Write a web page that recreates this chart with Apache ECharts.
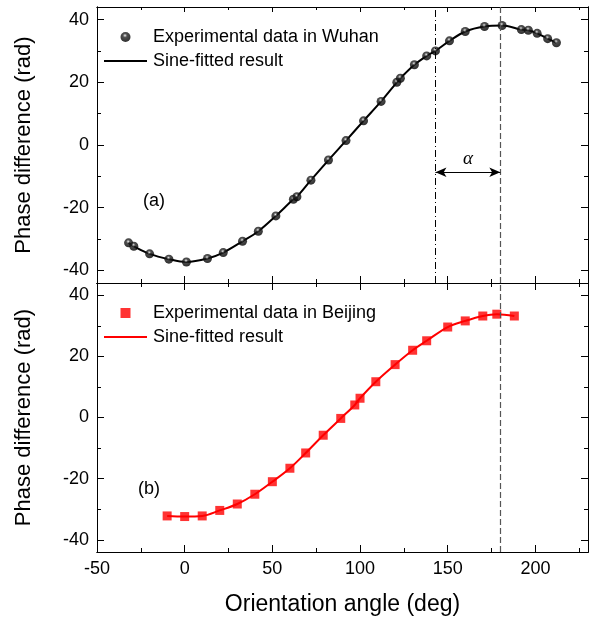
<!DOCTYPE html>
<html>
<head>
<meta charset="utf-8">
<script src="https://cdn.jsdelivr.net/npm/echarts@6/dist/echarts.min.js"></script>
<style>html,body{margin:0;padding:0;background:#fff}#c{width:589px;height:617px}</style>
</head>
<body>
<div id="c"></div>
<script>
// ---- data ----
const wuhanAngle = [-32, -29, -20, -9, 1, 13, 22, 33, 42, 52, 62, 64, 72, 82, 92, 102, 112, 121, 123, 131, 138, 143, 151, 160, 171, 181, 192, 196, 201, 207, 212];
const wuhanPhase = [-31.2, -32.3, -34.7, -36.4, -37.3, -36.2, -34.3, -30.7, -27.5, -22.6, -17.3, -16.5, -11.2, -4.8, 1.4, 7.7, 13.9, 20.0, 21.3, 25.6, 28.4, 30.0, 33.2, 36.2, 37.8, 38.1, 36.8, 36.6, 35.6, 33.9, 32.6];
const beijingAngle = [-10, 0, 10, 20, 30, 40, 50, 60, 69, 79, 89, 97, 100, 109, 120, 130, 138, 150, 160, 170, 178, 188];
const beijingPhase = [-32.2, -32.4, -32.2, -30.4, -28.3, -25.1, -21.0, -16.6, -11.6, -5.8, -0.3, 4.1, 6.3, 11.7, 17.3, 22.0, 25.1, 29.6, 31.6, 33.2, 33.8, 33.2];
const angleTicksMajor = [-50, 0, 50, 100, 150, 200];
const angleTicksMinor = [-25, 25, 75, 125, 175, 225];
const phaseTicksMajor = [-40, -20, 0, 20, 40];
const phaseTicksMinor = [-30, -10, 10, 30];
const refLinesA = [143, 180];   // dash-dot, dashed
const refLinesB = [180];
const alphaSpan = [143, 180];
const alphaLevel = -8.7;

const FONT = 'Liberation Sans, Arial, sans-serif';
const zip = (a, b) => a.map((v, i) => [v, b[i]]);

function xAx(grid, pos, vals, len, opts) {
  return Object.assign({
    type: 'value', gridIndex: grid, position: pos, min: -50, max: 230,
    axisLine: { show: true, onZero: false, lineStyle: { color: '#000', width: 1 } },
    axisTick: { show: true, inside: true, length: len, customValues: vals, lineStyle: { color: '#000' } },
    axisLabel: { show: false },
    splitLine: { show: false }
  }, opts || {});
}
function yAx(grid, pos, vals, len, opts) {
  return Object.assign({
    type: 'value', gridIndex: grid, position: pos, min: -44, max: 44,
    axisLine: { show: true, onZero: false, lineStyle: { color: '#000', width: 1 } },
    axisTick: { show: true, inside: true, length: len, customValues: vals, lineStyle: { color: '#000' } },
    axisLabel: { show: false },
    splitLine: { show: false }
  }, opts || {});
}
const xLabel = { show: true, customValues: angleTicksMajor, color: '#000', fontSize: 18, fontFamily: FONT, margin: 8 };
const yLabel = { show: true, customValues: phaseTicksMajor, color: '#000', fontSize: 18, fontFamily: FONT, margin: 8 };
const yName = {
  name: 'Phase difference (rad)', nameLocation: 'middle', nameGap: 62,
  nameTextStyle: { fontSize: 22, fontFamily: FONT, color: '#000' }
};

const xAxes = [
  xAx(0, 'bottom', angleTicksMajor, 7),
  xAx(0, 'bottom', angleTicksMinor, 4),
  xAx(0, 'top', angleTicksMajor, 5),
  xAx(0, 'top', angleTicksMinor, 3),
  xAx(1, 'bottom', angleTicksMajor, 7, {
    axisLabel: xLabel, name: 'Orientation angle (deg)', nameLocation: 'middle', nameGap: 41,
    nameTextStyle: { fontSize: 23, fontFamily: FONT, color: '#000' }
  }),
  xAx(1, 'bottom', angleTicksMinor, 4),
  xAx(1, 'top', angleTicksMajor, 7),
  xAx(1, 'top', angleTicksMinor, 4)
];
const yAxes = [
  yAx(0, 'left', phaseTicksMajor, 7, Object.assign({ axisLabel: yLabel }, yName)),
  yAx(0, 'left', phaseTicksMinor, 4),
  yAx(0, 'right', phaseTicksMajor, 7),
  yAx(0, 'right', phaseTicksMinor, 4),
  yAx(1, 'left', phaseTicksMajor, 7, Object.assign({ axisLabel: yLabel }, yName)),
  yAx(1, 'left', phaseTicksMinor, 4),
  yAx(1, 'right', phaseTicksMajor, 7),
  yAx(1, 'right', phaseTicksMinor, 4)
];

const ball = {
  type: 'radial', x: 0.45, y: 0.35, r: 0.6,
  colorStops: [{ offset: 0, color: '#ffffff' }, { offset: 0.12, color: '#a0a0a0' }, { offset: 0.35, color: '#222' }, { offset: 1, color: '#000' }]
};
const lineIcon = 'path://M0,0L43,0L43,2.2L0,2.2Z';
const legendCommon = {
  orient: 'vertical', left: 104, itemWidth: 43, itemHeight: 10, itemGap: 6, padding: 0,
  textStyle: { fontSize: 18, fontFamily: FONT, color: '#000', padding: [0, 0, 0, 1] },
  formatter: n => n.replace(/ \(.\)$/, ''), selectedMode: false
};

const option = {
  animation: false,
  backgroundColor: '#fff',
  grid: [
    { left: 97, top: 7, width: 491, height: 276 },
    { left: 97, top: 283, width: 491, height: 276 }
  ],
  xAxis: xAxes,
  yAxis: yAxes,
  legend: [
    Object.assign({}, legendCommon, {
      top: 28,
      data: [{ name: 'Experimental data in Wuhan' }, { name: 'Sine-fitted result (a)', icon: lineIcon }]
    }),
    Object.assign({}, legendCommon, {
      top: 304,
      data: [{ name: 'Experimental data in Beijing', icon: 'path://M0,0L10,0L10,10L0,10Z' }, { name: 'Sine-fitted result (b)', icon: lineIcon }]
    })
  ],
  graphic: [
    { type: 'text', left: 143, top: 192, style: { text: '(a)', font: '18px ' + FONT, fill: '#000' } },
    { type: 'text', left: 138, top: 480, style: { text: '(b)', font: '18px ' + FONT, fill: '#000' } }
  ],
  series: [
    {
      name: 'Sine-fitted result (a)', type: 'line', xAxisIndex: 0, yAxisIndex: 0,
      data: zip(wuhanAngle, wuhanPhase), smooth: 0.35, symbol: 'none',
      lineStyle: { color: '#000', width: 2 }, itemStyle: { color: '#000' }, z: 3,
      markLine: {
        silent: true, symbol: 'none', label: { show: false },
        data: [
          { xAxis: refLinesA[0], lineStyle: { color: '#000', width: 1, type: [7, 3, 1, 3] } },
          { xAxis: refLinesA[1], lineStyle: { color: '#555', width: 1.2, type: [6, 3] } }
        ]
      }
    },
    {
      name: 'Experimental data in Wuhan', type: 'scatter', xAxisIndex: 0, yAxisIndex: 0,
      data: zip(wuhanAngle, wuhanPhase), symbol: 'circle', symbolSize: 9,
      itemStyle: { color: ball }, z: 4,
      markLine: {
        silent: true, symbol: ['arrow', 'arrow'], symbolSize: [7, 11],
        lineStyle: { color: '#000', width: 1, type: 'solid' },
        label: {
          show: true, position: 'middle', formatter: 'α', distance: 4,
          fontSize: 19, fontStyle: 'italic', fontFamily: 'Liberation Serif, Times New Roman, serif', color: '#000'
        },
        data: [[{ coord: [alphaSpan[0], alphaLevel] }, { coord: [alphaSpan[1], alphaLevel] }]]
      }
    },
    {
      name: 'Sine-fitted result (b)', type: 'line', xAxisIndex: 4, yAxisIndex: 4,
      data: zip(beijingAngle, beijingPhase), smooth: 0.35, symbol: 'none',
      lineStyle: { color: '#ff0000', width: 2 }, itemStyle: { color: '#ff0000' }, z: 3,
      markLine: {
        silent: true, symbol: 'none', label: { show: false },
        data: [{ xAxis: refLinesB[0], lineStyle: { color: '#555', width: 1.2, type: [6, 3] } }]
      }
    },
    {
      name: 'Experimental data in Beijing', type: 'scatter', xAxisIndex: 4, yAxisIndex: 4,
      data: zip(beijingAngle, beijingPhase), symbol: 'rect', symbolSize: 9,
      itemStyle: { color: '#ff0000' }, z: 4
    }
  ]
};
const chart = echarts.init(document.getElementById('c'), null, { renderer: 'canvas' });
chart.setOption(option);
</script>
</body>
</html>
